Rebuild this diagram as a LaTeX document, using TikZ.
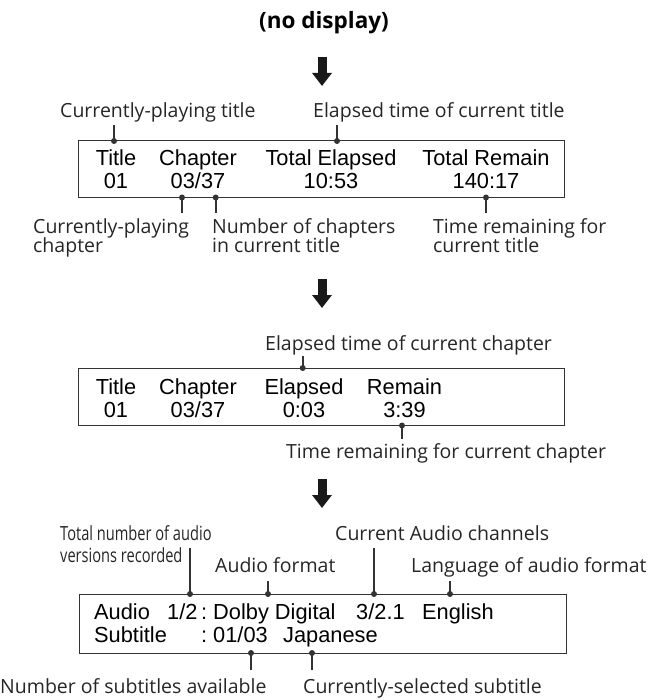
\documentclass[tikz,border=0pt]{standalone}
\usepackage{fontspec}
\setmainfont{Liberation Sans}
\newfontfamily\lblfont{Open Sans}
\newfontfamily\narrowfont[FakeStretch=0.75]{Open Sans}
\usetikzlibrary{arrows.meta, calc}

\tikzset{
  lcd/.style={font=\fontsize{21.8}{24}\selectfont, inner sep=0pt, anchor=base},
  lcdw/.style={lcd, anchor=base west},
  callout/.style={font=\lblfont\fontsize{19.5}{19.5}\selectfont, text=black!85, inner sep=0pt, anchor=base west, align=left},
  screen/.style={draw=black!80, line width=1pt, inner sep=0pt, minimum width=486pt},
  leader/.style={line width=2.2pt, black!80},
  nextstep/.style={line width=9pt, black!90, -{Triangle[width=19pt,length=13pt]}}
}

\begin{document}
\begin{tikzpicture}[x=1pt, y=-1pt]
    \useasboundingbox (0,0) rectangle (665,700);

    % Top: nothing shown
    \node[font=\lblfont\bfseries\fontsize{22.5}{26}\selectfont, anchor=base] (nodisp) at (324,29) {(no display)};
    \coordinate (a1s) at (322,57); \coordinate (a1e) at (322,86);
    \draw[nextstep] (a1s) -- (a1e);

    % Screen 1: title times
    \node[screen, minimum height=56.5pt] (scr1) at (321,169.25) {};
    \node[lcd] (t1a) at (116,166) {Title};         \node[lcd] (t1b) at (116,189) {01};
    \node[lcd] (t1c) at (198,166) {Chapter};       \node[lcd] (t1d) at (198,189) {03/37};
    \node[lcd] (t1e) at (331,166) {Total Elapsed}; \node[lcd] (t1f) at (331,189) {10:53};
    \node[lcd] (t1g) at (486,166) {Total Remain};  \node[lcd] (t1h) at (486,189) {140:17};

    % two-line callouts sit on their last line
    \node[callout] (cTitle) at (60,118) {Currently-playing title};
    \node[callout] (cElapT) at (313,118) {Elapsed time of current title};
    \node[callout] (cChap) at (33,253) {Currently-playing\\chapter};
    \node[callout] (cNumCh) at (212,253) {Number of chapters\\in current title};
    \node[callout] (cRemT) at (433,253) {Time remaining for\\current title};

    \coordinate (p1) at (114,141);   \coordinate (p2) at (337,141);
    \coordinate (q1) at (182,197.5); \coordinate (q2) at (215.7,197.5); \coordinate (q3) at (486,197.5);
    \draw[leader] (p1) -- ($(p1 |- cTitle.base)+(0,7)$);
    \draw[leader] (p2) -- ($(p2 |- cElapT.base)+(0,7)$);
    \draw[leader] (q1) -- ($(q1 |- cChap.base)+(0,-40)$);
    \draw[leader] (q2) -- ($(q2 |- cNumCh.base)+(0,-40)$);
    \draw[leader] (q3) -- ($(q3 |- cRemT.base)+(0,-40)$);

    \coordinate (a2s) at (322,279); \coordinate (a2e) at (322,308);
    \draw[nextstep] (a2s) -- (a2e);

    % Screen 2: chapter times
    \node[screen, minimum height=57.5pt] (scr2) at (321,396.75) {};
    \node[lcd] (t2a) at (116,394) {Title};    \node[lcd] (t2b) at (116,417) {01};
    \node[lcd] (t2c) at (198,394) {Chapter};  \node[lcd] (t2d) at (198,417) {03/37};
    \node[lcd] (t2e) at (304,394) {Elapsed};  \node[lcd] (t2f) at (304,417) {0:03};
    \node[lcd] (t2g) at (404.5,394) {Remain}; \node[lcd] (t2h) at (404.5,417) {3:39};

    \node[callout] (cElapC) at (265,350) {Elapsed time of current chapter};
    \node[callout] (cRemC) at (286,458) {Time remaining for current chapter};

    \coordinate (p3) at (302.7,368); \coordinate (q4) at (402,425.5);
    \draw[leader] (p3) -- ($(p3 |- cElapC.base)+(0,6)$);
    \draw[leader] (q4) -- ($(q4 |- cRemC.base)+(0,-19)$);

    \coordinate (a3s) at (322,479); \coordinate (a3e) at (322,508);
    \draw[nextstep] (a3s) -- (a3e);

    % Screen 3: audio and subtitle
    \node[screen, minimum width=487pt, minimum height=59pt] (scr3) at (322.5,623.5) {};
    \node[lcdw] (t3a) at (94,619) {Audio};
    \node[lcdw] (t3b) at (167,619) {1/2};
    \node[lcdw] (t3c) at (201,619) {:};
    \node[lcdw] (t3d) at (213,619) {Dolby Digital};
    \node[lcdw] (t3e) at (356,619) {3/2.1};
    \node[lcdw] (t3f) at (422,619) {English};
    \node[lcdw] (t3g) at (94,642) {Subtitle};
    \node[lcdw] (t3h) at (201,642) {:};
    \node[lcdw] (t3i) at (213,642) {01/03};
    \node[lcdw] (t3j) at (283,642) {Japanese};

    \node[callout, font=\narrowfont\fontsize{19.5}{22}\selectfont] (cAudNum) at (60,562) {Total number of audio\\versions recorded};
    \node[callout] (cAudFmt) at (215,572) {Audio format};
    \node[callout] (cAudCh) at (335,540) {Current Audio channels};
    \node[callout] (cAudLang) at (411,572) {Language of audio format};
    \node[callout] (cSubNum) at (0,693) {Number of subtitles available};
    \node[callout] (cSubSel) at (303,693) {Currently-selected subtitle};

    \coordinate (p4) at (190,594); \coordinate (p5) at (268,594);
    \coordinate (p6) at (374,594); \coordinate (p7) at (450,594);
    \coordinate (q5) at (251,653); \coordinate (q6) at (312,653);
    \draw[leader] (p4) -- ($(p4 |- cAudNum.base)+(0,-14)$);
    \draw[leader] (p5) -- ($(p5 |- cAudFmt.base)+(0,9)$);
    \draw[leader] (p6) -- ($(p6 |- cAudCh.base)+(0,8)$);
    \draw[leader] (p7) -- ($(p7 |- cAudLang.base)+(0,9)$);
    \draw[leader] (q5) -- ($(q5 |- cSubNum.base)+(0,-23)$);
    \draw[leader] (q6) -- ($(q6 |- cSubSel.base)+(0,-23)$);

    \foreach \d in {p1,p2,p3,p4,p5,p6,p7,q1,q2,q3,q4,q5,q6}
        \fill[black!80] (\d) circle (3pt);
\end{tikzpicture}
\end{document}
